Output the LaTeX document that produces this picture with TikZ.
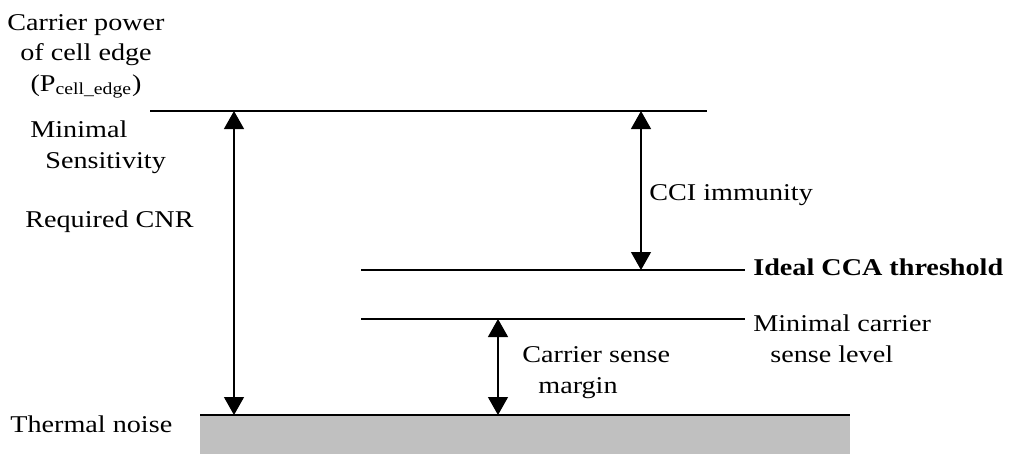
\documentclass[tikz,border=0pt]{standalone}
\usepackage{fontspec}
\setmainfont{Liberation Serif}[FakeStretch=1.17]
\usetikzlibrary{arrows.meta}
\definecolor{noisegrey}{HTML}{C0C0C0}
\begin{document}
\begin{tikzpicture}[x=0.02cm,y=-0.02cm,
    font=\fontsize{13.7}{17.1}\selectfont,
    level/.style={line width=0.8pt},
    dimarrow/.style={line width=0.75pt,{Triangle[width=0.4cm,length=0.36cm]}-{Triangle[width=0.4cm,length=0.36cm]}},
    lbl/.style={inner sep=0pt,anchor=base west}]
    \useasboundingbox (0,0) rectangle (1015,454);
    % level lines
    \coordinate (topL) at (150,111);   \coordinate (topR) at (707,111);
    \coordinate (ccaL) at (361,270);   \coordinate (ccaR) at (745,270);
    \coordinate (mcsL) at (361,319);   \coordinate (mcsR) at (745,319);
    \coordinate (noiseL) at (200,415); \coordinate (noiseR) at (850,415);
    \fill[noisegrey] (noiseL) rectangle (850,454);
    \draw[level] (topL) -- (topR);
    \draw[level] (ccaL) -- (ccaR);
    \draw[level] (mcsL) -- (mcsR);
    \draw[level] (noiseL) -- (noiseR);
    % arrows
    \coordinate (cnrT) at (234,111);  \coordinate (cnrB) at (234,415);
    \coordinate (cciT) at (641,111);  \coordinate (cciB) at (641,270);
    \coordinate (csmT) at (498,319);  \coordinate (csmB) at (498,415);
    \draw[dimarrow] (cnrT) -- (cnrB);
    \draw[dimarrow] (cciT) -- (cciB);
    \draw[dimarrow] (csmT) -- (csmB);
    % labels (multi-line: base = last line)
    \node[inner sep=0pt,align=center,anchor=base] (pedge) at (86,91) {Carrier power\\of cell edge\\(P\textsubscript{cell\_edge})};
    \node[lbl,align=left] (minsens) at (30,168) {Minimal\\\hspace*{0.3cm}Sensitivity};
    \node[lbl] (cnr) at (25,227) {Required CNR};
    \node[lbl] (noise) at (10,432) {Thermal noise};
    \node[lbl] (cci) at (649,200) {CCI immunity};
    \node[lbl,font=\fontsize{13.7}{17.1}\selectfont\bfseries] (cca) at (753,275) {Ideal CCA threshold};
    \node[lbl,align=left] (mcs) at (753,362) {Minimal carrier\\\hspace*{0.34cm}sense level};
    \node[lbl,align=left] (csm) at (522,393) {Carrier sense\\\hspace*{0.32cm}margin};
\end{tikzpicture}
\end{document}
